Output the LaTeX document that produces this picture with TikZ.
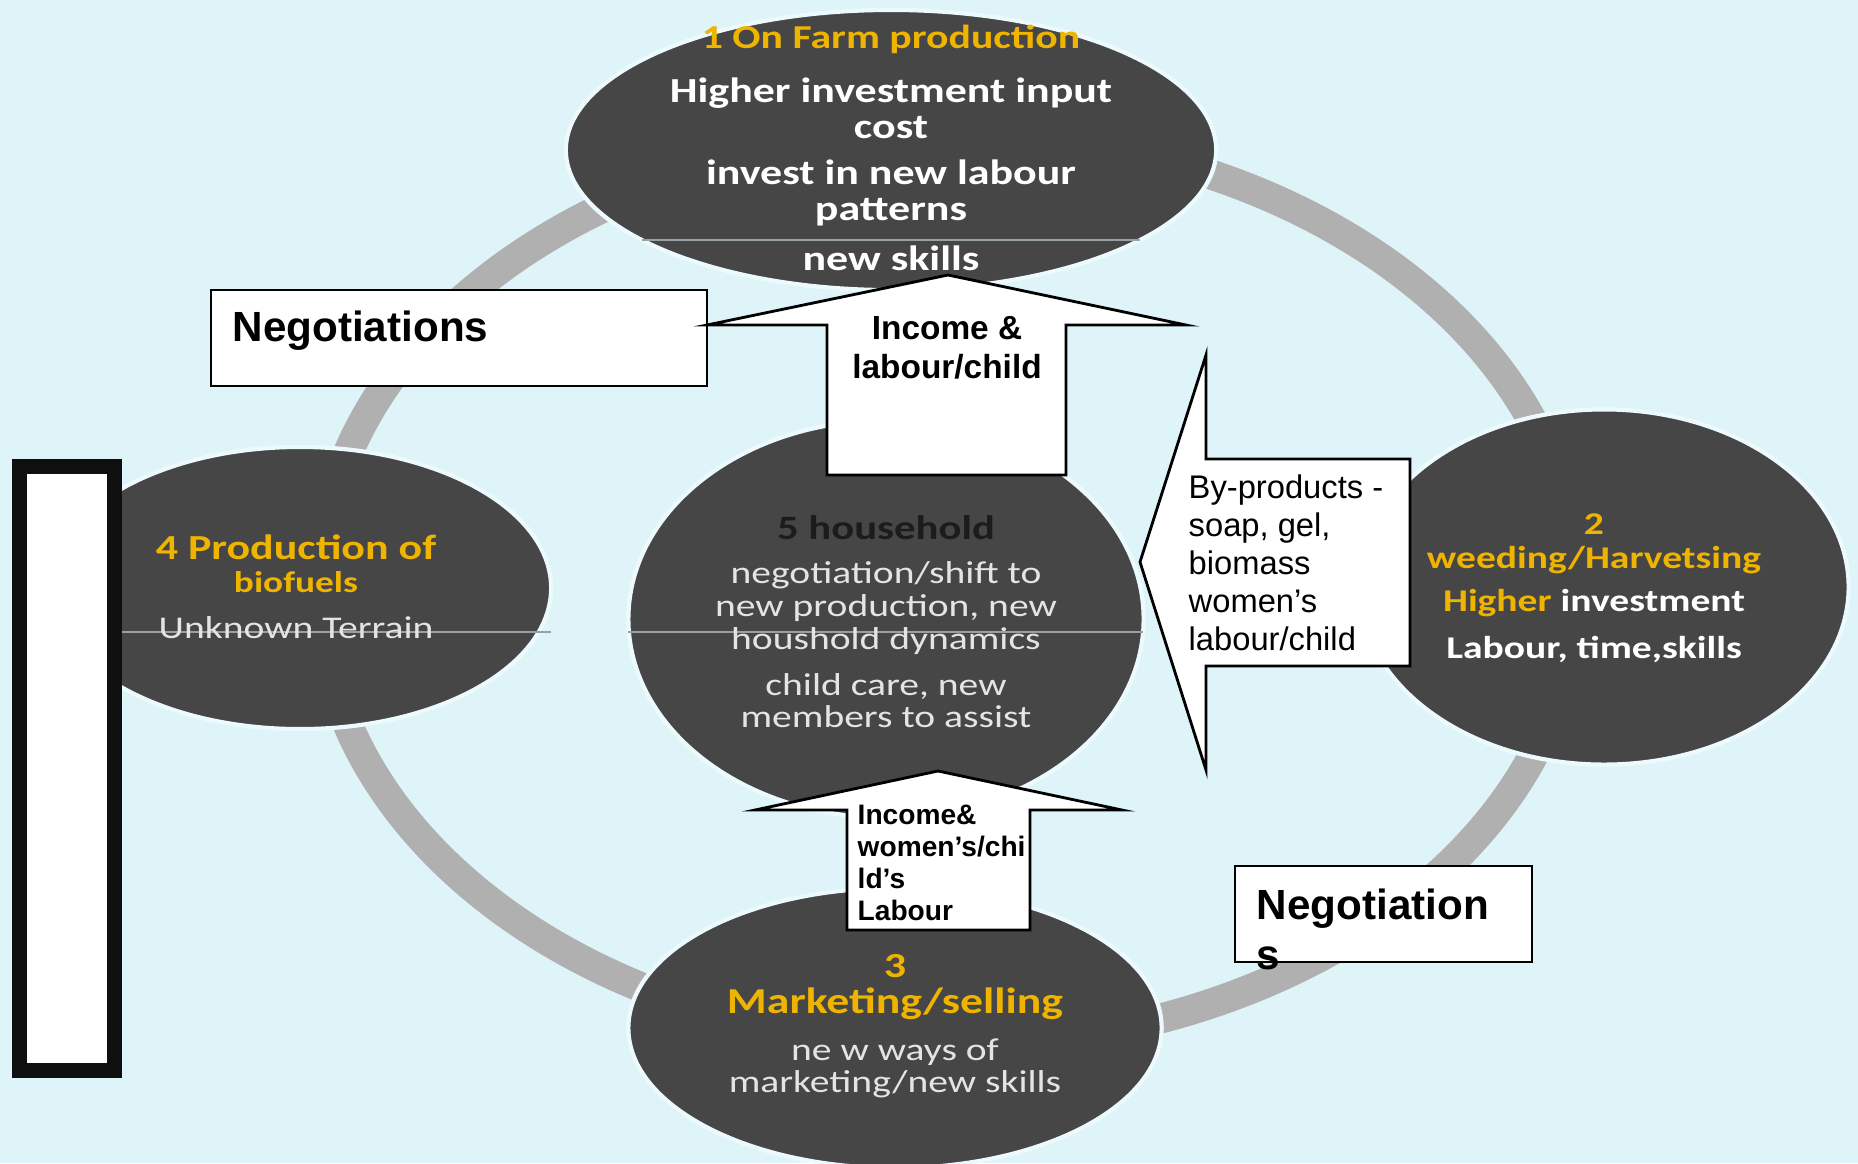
\documentclass[tikz,border=0pt]{standalone}
\usepackage{fontspec}
\setmainfont{Liberation Sans}
\newfontfamily\stagefont{Carlito}[FakeStretch=1.25]
\usetikzlibrary{shapes.geometric}
\definecolor{bgcyan}{RGB}{222,244,249}
\definecolor{stagegray}{RGB}{70,70,70}
\definecolor{ringgray}{RGB}{176,176,176}
\definecolor{halo}{RGB}{236,250,253}
\definecolor{gold}{RGB}{238,180,0}
\definecolor{seam}{RGB}{150,160,165}
\definecolor{textgray}{RGB}{228,228,228}
\definecolor{darktext}{RGB}{28,28,28}
\definecolor{framebl}{RGB}{15,15,15}

\begin{document}
\begin{tikzpicture}[x=0.01cm,y=-0.01cm,
	stage/.style={ellipse,fill=stagegray,draw=halo,line width=1.2pt,inner sep=0pt},
	ring/.style={ringgray,line width=0.3cm},
	stagehead/.style 2 args={text=gold,align=center,inner sep=0pt,font=\stagefont\bfseries\fontsize{#1}{#2}\selectfont},
	stagetext/.style 2 args={text=white,align=center,inner sep=0pt,font=\stagefont\bfseries\fontsize{#1}{#2}\selectfont},
	stagelight/.style 2 args={text=textgray,align=center,inner sep=0pt,font=\stagefont\fontsize{#1}{#2}\selectfont},
	calloutbox/.style={draw=black,fill=white,line width=0.8pt},
	callouttext/.style 2 args={align=left,inner sep=0pt,font=\fontsize{#1}{#2}\selectfont}]

	% background
	\useasboundingbox (0,0) rectangle (1858,1163);
	\fill[bgcyan] (0,0) rectangle (1858,1163);

	% ring
	\coordinate (hub) at (948,589);
	\draw[ring] (hub) ellipse [x radius=6.28cm, y radius=4.56cm];

	% stages
	\node[stage,minimum width=6.5cm,minimum height=2.8cm] (farm) at (891,150) {};
	\node[stage,minimum width=4.89cm,minimum height=3.55cm] (weed) at (1604,587) {};
	\node[stage,minimum width=5.33cm,minimum height=2.8cm] (market) at (895,1028) {};
	\node[stage,minimum width=5.02cm,minimum height=2.82cm] (fuel) at (300,588) {};
	\node[stage,minimum width=5.15cm,minimum height=3.97cm] (home) at (886,619) {};

	% seams
	\draw[seam,line width=0.5pt] (642,240) -- (1140,240);
	\draw[seam,line width=0.5pt] (122,632) -- (551,632);
	\draw[seam,line width=0.5pt] (628,632) -- (1143,632);

	% stage texts
	\node[stagehead={9.5}{10}] (farmtitle) at (891,39) {1 On Farm production};
	\node[stagetext={10}{10.2}] (farmcost) at (891,108) {Higher investment input\\cost};
	\node[stagetext={10}{10.2}] (farmlabour) at (891,193) {invest in new labour\\patterns};
	\node[stagetext={10}{10.2}] (farmskills) at (891,258) {new skills};

	\node[stagehead={9}{10}] (weednum) at (1594,524) {2};
	\node[stagehead={9}{10}] (weedtitle) at (1594,560) {weeding/Harvetsing};
	\node[stagetext={9}{10}] (weedcost) at (1594,603) {{\color{gold}Higher} investment};
	\node[stagetext={9}{10}] (weedneeds) at (1594,649) {Labour, time,skills};

	\node[stagehead={10}{10}] (fueltitle) at (296,547) {4 Production of};
	\node[stagehead={8.5}{10}] (fuelname) at (296,582) {biofuels};
	\node[stagelight={9}{10}] (fuelnote) at (296,628) {Unknown Terrain};

	\node[stagetext={9.7}{10},text=darktext] (hometitle) at (886,528) {5 household};
	\node[stagelight={9}{9.4}] (homeshift) at (886,608) {negotiation/shift to\\new production, new\\houshold dynamics};
	\node[stagelight={9}{9.1}] (homecare) at (886,701) {child care, new\\members to assist};

	\node[stagehead={10}{10}] (marketnum) at (895,966) {3};
	\node[stagehead={10.4}{11}] (markettitle) at (895,1004) {Marketing/selling};
	\node[stagelight={9}{9.1}] (marketways) at (895,1068) {ne w ways of\\marketing/new skills};

	% frame on the left
	\draw[framebl,line width=0.15cm,fill=white] (19.5,466.5) rectangle (114.5,1070.5);

	% callouts
	\draw[calloutbox] (211,290) rectangle (707,386); % negotiations left
	\draw[calloutbox] (948,275) -- (1186,325) -- (1066,325) -- (1066,475) -- (827,475) -- (827,325) -- (707,325) -- cycle; % income up
	\draw[calloutbox] (1140,562) -- (1206,355) -- (1206,459) -- (1410,459) -- (1410,666) -- (1206,666) -- (1206,770) -- cycle; % by-products left
	\draw[calloutbox] (938,771) -- (1122,810) -- (1030,810) -- (1030,930) -- (847,930) -- (847,810) -- (755,810) -- cycle; % income up bottom
	\draw[calloutbox] (1235,866) rectangle (1532,962); % negotiations right

	% callout labels
	\node[callouttext={12}{14},font=\bfseries\fontsize{12}{14}\selectfont,anchor=base west] (negleft) at (232,341) {Negotiations};
	\node[callouttext={9.5}{11},font=\bfseries\fontsize{9.5}{11}\selectfont,align=center] (incometop) at (947,348) {Income \&\\labour/child};
	\node[callouttext={9.3}{10.8},anchor=west] (byproducts) at (1188,563) {By-products -\\soap, gel,\\biomass\\women’s\\labour/child};
	\node[callouttext={8}{9.1},font=\bfseries\fontsize{8}{9.1}\selectfont,anchor=west] (incomelow) at (857,863) {Income\&\\women’s/chi\\ld’s\\Labour};
	\node[callouttext={12}{14.2},font=\bfseries\fontsize{12}{14.2}\selectfont,anchor=west] (negright) at (1256,929) {Negotiation\\s};

\end{tikzpicture}
\end{document}
